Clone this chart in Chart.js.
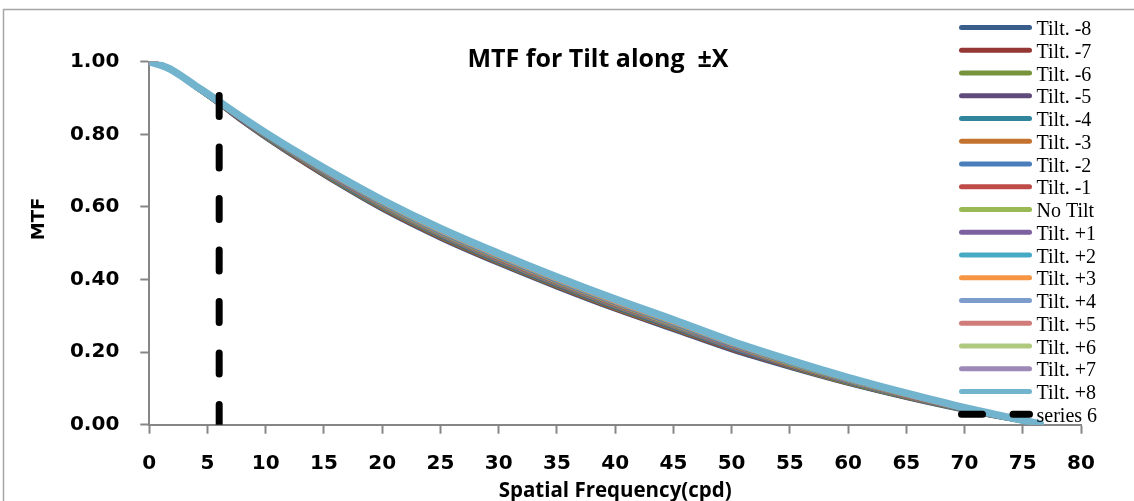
<!DOCTYPE html>
<html>
<head>
<meta charset="utf-8">
<script src="https://cdn.jsdelivr.net/npm/chart.js@4.4.1/dist/chart.umd.min.js"></script>
<style>
html,body{margin:0;padding:0;background:#ffffff;}
#wrap{width:1134px;height:501px;position:relative;}
</style>
</head>
<body>
<div id="wrap"><canvas id="c" width="1134" height="501"></canvas></div>
<script>
// ---- data ----
const freq = [0, 1, 2, 4, 6, 8, 10, 13, 16, 20, 25, 30, 35, 40, 45, 50, 55, 60, 65, 70, 74, 76.5];

const seriesLabels = ["Tilt. -8","Tilt. -7","Tilt. -6","Tilt. -5","Tilt. -4","Tilt. -3","Tilt. -2","Tilt. -1","No Tilt",
                      "Tilt. +1","Tilt. +2","Tilt. +3","Tilt. +4","Tilt. +5","Tilt. +6","Tilt. +7","Tilt. +8"];

const tiltM8 = [1.000,0.990,0.975,0.930,0.884,0.836,0.791,0.728,0.668,0.594,0.514,0.444,0.379,0.318,0.262,0.206,0.158,0.114,0.075,0.040,0.016,0.002];
const tiltM7 = [1.000,0.990,0.975,0.930,0.885,0.837,0.792,0.729,0.670,0.596,0.516,0.446,0.381,0.320,0.264,0.208,0.160,0.115,0.076,0.041,0.016,0.002];
const tiltM6 = [1.000,0.990,0.975,0.930,0.885,0.838,0.793,0.731,0.671,0.598,0.518,0.448,0.383,0.322,0.266,0.210,0.161,0.116,0.077,0.041,0.016,0.002];
const tiltM5 = [1.000,0.990,0.975,0.931,0.885,0.838,0.794,0.732,0.673,0.600,0.520,0.450,0.385,0.324,0.268,0.211,0.162,0.118,0.078,0.042,0.017,0.002];
const tiltM4 = [1.000,0.990,0.975,0.931,0.886,0.839,0.795,0.733,0.674,0.601,0.522,0.452,0.387,0.326,0.270,0.213,0.164,0.119,0.078,0.042,0.017,0.002];
const tiltM3 = [1.000,0.990,0.975,0.931,0.886,0.840,0.796,0.734,0.676,0.603,0.524,0.454,0.389,0.328,0.272,0.215,0.165,0.120,0.079,0.043,0.017,0.002];
const tiltM2 = [1.000,0.990,0.975,0.931,0.887,0.840,0.797,0.735,0.677,0.605,0.526,0.456,0.391,0.330,0.274,0.216,0.167,0.121,0.080,0.043,0.017,0.002];
const tiltM1 = [1.000,0.990,0.976,0.932,0.887,0.841,0.798,0.737,0.679,0.607,0.528,0.458,0.393,0.332,0.276,0.218,0.168,0.122,0.081,0.044,0.018,0.002];
const tiltNo = [1.000,0.990,0.976,0.932,0.887,0.842,0.798,0.738,0.680,0.608,0.529,0.460,0.395,0.334,0.277,0.220,0.169,0.123,0.082,0.044,0.018,0.002];
const tiltP1 = [1.000,0.990,0.976,0.932,0.888,0.842,0.799,0.739,0.681,0.610,0.531,0.462,0.397,0.336,0.279,0.221,0.171,0.124,0.083,0.044,0.018,0.002];
const tiltP2 = [1.000,0.990,0.976,0.932,0.888,0.843,0.800,0.740,0.683,0.612,0.533,0.464,0.399,0.338,0.281,0.223,0.172,0.125,0.084,0.045,0.018,0.002];
const tiltP3 = [1.000,0.990,0.976,0.932,0.889,0.844,0.801,0.741,0.684,0.614,0.535,0.466,0.401,0.340,0.283,0.225,0.174,0.126,0.084,0.045,0.018,0.002];
const tiltP4 = [1.000,0.990,0.976,0.933,0.889,0.845,0.802,0.743,0.686,0.616,0.537,0.468,0.403,0.342,0.285,0.227,0.175,0.128,0.085,0.046,0.019,0.002];
const tiltP5 = [1.000,0.990,0.976,0.933,0.889,0.845,0.803,0.743,0.687,0.617,0.538,0.469,0.404,0.343,0.286,0.228,0.176,0.128,0.086,0.046,0.019,0.002];
const tiltP6 = [1.000,0.990,0.976,0.933,0.890,0.845,0.803,0.744,0.688,0.617,0.539,0.470,0.405,0.344,0.287,0.228,0.177,0.129,0.086,0.047,0.019,0.002];
const tiltP7 = [1.000,0.990,0.976,0.933,0.890,0.846,0.803,0.744,0.688,0.618,0.540,0.471,0.406,0.345,0.288,0.229,0.177,0.129,0.087,0.047,0.019,0.002];
const tiltP8 = [1.000,0.990,0.976,0.933,0.890,0.846,0.804,0.745,0.689,0.619,0.541,0.472,0.407,0.346,0.289,0.230,0.178,0.130,0.087,0.047,0.019,0.002];

const series6Label = "series 6";
const series6X = [6, 6];
const series6Y = [0.907, 0];

const xTickMin = 0, xTickMax = 80, xTickStep = 5;
const yTickMin = 0, yTickMax = 1, yTickStep = 0.2;

const chartTitle = "MTF for Tilt along  \u00B1X";
const xAxisTitle = "Spatial Frequency(cpd)";
const yAxisTitle = "MTF";

// ---- styles ----
const seriesValues = [tiltM8,tiltM7,tiltM6,tiltM5,tiltM4,tiltM3,tiltM2,tiltM1,tiltNo,tiltP1,tiltP2,tiltP3,tiltP4,tiltP5,tiltP6,tiltP7,tiltP8];
const seriesColors = ["#3A5E8C","#953735","#77933C","#5F4A7B","#31859C","#C4732F","#4A7EBB","#BE4B48","#98B954",
                      "#7D60A0","#46AAC5","#F69544","#7C9CCB","#D07C7A","#AFC97F","#9D88B7","#72B4CD"];
const axisGray = "#868686";

const datasets = seriesValues.map((vals, i) => ({
  label: seriesLabels[i],
  data: freq.map((f, j) => ({x: f, y: vals[j]})),
  borderColor: seriesColors[i],
  backgroundColor: seriesColors[i],
  borderWidth: i === seriesValues.length - 1 ? 7.5 : 5,
  borderCapStyle: 'round',
  borderJoinStyle: 'round',
  pointRadius: 0,
  pointHoverRadius: 0,
  fill: false,
  cubicInterpolationMode: 'monotone',
  order: seriesValues.length - i
}));
datasets.push({
  label: series6Label,
  data: series6X.map((x, j) => ({x: x, y: series6Y[j]})),
  borderColor: "#000000",
  backgroundColor: "#000000",
  borderWidth: 7,
  borderDash: [21, 30.5],
  borderCapStyle: 'round',
  pointRadius: 0,
  fill: false,
  order: 0
});

const decorPlugin = {
  id: 'decor',
  afterDraw(chart) {
    const ctx = chart.ctx;
    ctx.save();
    // outer frame
    ctx.strokeStyle = "#a6a6a6";
    ctx.lineWidth = 1.5;
    ctx.beginPath();
    ctx.moveTo(3.5, 520); ctx.lineTo(3.5, 9.5); ctx.lineTo(1134, 9.5);
    ctx.stroke();
    // chart title
    ctx.fillStyle = "#000";
    ctx.font = 'bold 25px "Open Sans"';
    ctx.textAlign = 'center';
    ctx.textBaseline = 'alphabetic';
    ctx.fillText(chartTitle, 598, 67);
    // y axis title
    ctx.save();
    ctx.translate(44, 219);
    ctx.rotate(-Math.PI / 2);
    ctx.font = 'bold 18px "DejaVu Sans"';
    ctx.textAlign = 'center';
    ctx.textBaseline = 'alphabetic';
    ctx.fillText(yAxisTitle, 0, 0);
    ctx.restore();
    // legend
    const ds = chart.data.datasets;
    const x0 = 961.5, x1 = 1029.5, y0 = 27.5, dy = 22.75, tx = 1036.5;
    ctx.font = '20px "Liberation Serif"';
    ctx.textAlign = 'left';
    ds.forEach((d, i) => {
      const y = y0 + dy * i;
      ctx.save();
      ctx.strokeStyle = d.borderColor;
      ctx.lineCap = 'round';
      if (d.borderDash) { ctx.setLineDash(d.borderDash); ctx.lineWidth = 7; }
      else { ctx.lineWidth = 5; }
      ctx.beginPath();
      ctx.moveTo(x0, y); ctx.lineTo(x1, y);
      ctx.stroke();
      ctx.restore();
      ctx.fillStyle = "#000";
      ctx.fillText(d.label, tx, y + 7.5);
    });
    ctx.restore();
  }
};

const tickFont = {family: '"DejaVu Sans"', weight: 'bold', size: 20};

new Chart(document.getElementById('c'), {
  type: 'line',
  data: {datasets},
  options: {
    responsive: false,
    animation: false,
    events: [],
    layout: {padding: {left: 0, right: 53, top: 61.7, bottom: 0}},
    plugins: {legend: {display: false}, title: {display: false}, tooltip: {enabled: false}},
    scales: {
      x: {
        type: 'linear',
        min: xTickMin, max: xTickMax,
        ticks: {stepSize: xTickStep, font: tickFont, color: '#000', padding: 18, maxRotation: 0, autoSkip: false},
        grid: {drawOnChartArea: false, drawTicks: true, tickLength: 9, tickColor: axisGray, tickWidth: 2},
        border: {color: axisGray, width: 2},
        title: {display: true, text: xAxisTitle, color: '#000', font: {family: '"Open Sans"', weight: 'bold', size: 20.5}, padding: {top: 0, bottom: -2}},
        afterFit: s => { s.height = 76.3; }
      },
      y: {
        type: 'linear',
        min: yTickMin, max: yTickMax,
        ticks: {stepSize: yTickStep, font: tickFont, color: '#000', padding: 21, callback: v => Number(v).toFixed(2)},
        grid: {drawOnChartArea: false, drawTicks: true, tickLength: 9, tickColor: axisGray, tickWidth: 2},
        border: {color: axisGray, width: 2},
        afterFit: s => { s.width = 149.3; }
      }
    }
  },
  plugins: [decorPlugin]
});
</script>
</body>
</html>
